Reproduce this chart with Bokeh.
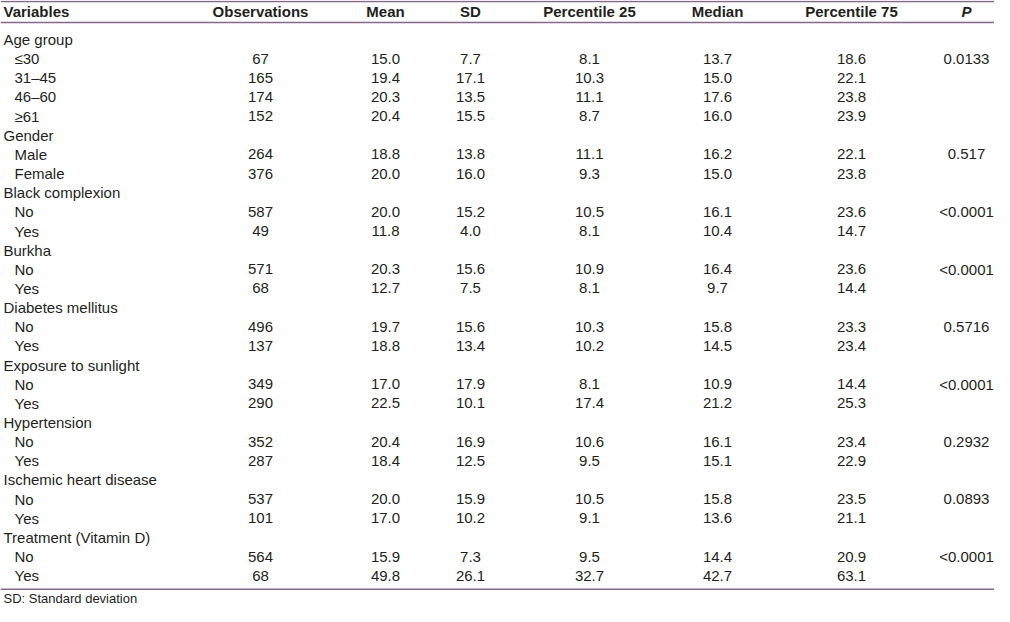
from bokeh.plotting import figure
from bokeh.models import Range1d
from bokeh.core.properties import value
from bokeh.embed import file_html
from bokeh.resources import INLINE

# ---- data ----
headers = ["Variables", "Observations", "Mean", "SD", "Percentile 25", "Median", "Percentile 75", "P"]
groups = ["Age group", "Gender", "Black complexion", "Burkha", "Diabetes mellitus",
          "Exposure to sunlight", "Hypertension", "Ischemic heart disease", "Treatment (Vitamin D)"]
levels = [["≤30", "31–45", "46–60", "≥61"], ["Male", "Female"], ["No", "Yes"], ["No", "Yes"],
          ["No", "Yes"], ["No", "Yes"], ["No", "Yes"], ["No", "Yes"], ["No", "Yes"]]
observations = [67, 165, 174, 152, 264, 376, 587, 49, 571, 68, 496, 137, 349, 290, 352, 287, 537, 101, 564, 68]
mean = ["15.0", "19.4", "20.3", "20.4", "18.8", "20.0", "20.0", "11.8", "20.3", "12.7", "19.7", "18.8",
        "17.0", "22.5", "20.4", "18.4", "20.0", "17.0", "15.9", "49.8"]
sd = ["7.7", "17.1", "13.5", "15.5", "13.8", "16.0", "15.2", "4.0", "15.6", "7.5", "15.6", "13.4",
      "17.9", "10.1", "16.9", "12.5", "15.9", "10.2", "7.3", "26.1"]
p25 = ["8.1", "10.3", "11.1", "8.7", "11.1", "9.3", "10.5", "8.1", "10.9", "8.1", "10.3", "10.2",
       "8.1", "17.4", "10.6", "9.5", "10.5", "9.1", "9.5", "32.7"]
median = ["13.7", "15.0", "17.6", "16.0", "16.2", "15.0", "16.1", "10.4", "16.4", "9.7", "15.8", "14.5",
          "10.9", "21.2", "16.1", "15.1", "15.8", "13.6", "14.4", "42.7"]
p75 = ["18.6", "22.1", "23.8", "23.9", "22.1", "23.8", "23.6", "14.7", "23.6", "14.4", "23.3", "23.4",
       "14.4", "25.3", "23.4", "22.9", "23.5", "21.1", "20.9", "63.1"]
pvalues = ["0.0133", "0.517", "<0.0001", "<0.0001", "0.5716", "<0.0001", "0.2932", "0.0893", "<0.0001"]
footnote = "SD: Standard deviation"

# ---- layout (pixel space of the figure) ----
W, H = 994, 606
col_x = [3, 260, 385, 470, 589, 717, 851, 966]
sub_x = 14
header_y = 11
row_y0 = 39
row_h = 19.15
line_color = "#85698b"
text_color = "#231f20"
FONT = value("Liberation Sans")
FS = "15px"

p = figure(width=W, height=H, x_range=Range1d(0, W), y_range=Range1d(H, 0),
           output_backend="svg", toolbar_location=None, min_border=0)
p.axis.visible = False
p.grid.visible = False
p.outline_line_color = None
p.background_fill_color = "white"
p.border_fill_color = "white"

lab_x, lab_y, lab_t = [], [], []
num_y = []
pv_y, pv_t = [], []
r = 0
for g, lv, pv in zip(groups, levels, pvalues):
    lab_x.append(col_x[0]); lab_y.append(row_y0 + r * row_h); lab_t.append(g)
    r += 1
    for j, l in enumerate(lv):
        y = row_y0 + r * row_h
        lab_x.append(sub_x); lab_y.append(y); lab_t.append(l)
        num_y.append(y)
        if j == 0:
            pv_y.append(y); pv_t.append(pv)
        r += 1
last_y = row_y0 + (r - 1) * row_h
bottom_line_y = last_y + 13.5
foot_y = bottom_line_y + 9

p.text(x=lab_x, y=lab_y, text=lab_t, text_font=FONT, text_font_size=FS,
       text_align="left", text_baseline="middle", text_color=text_color)

for cx, col in zip(col_x[1:7], [[str(o) for o in observations], mean, sd, p25, median, p75]):
    p.text(x=[cx] * len(col), y=num_y, text=col, text_font=FONT, text_font_size=FS,
           text_align="center", text_baseline="middle", text_color=text_color)

p.text(x=[col_x[7]] * len(pv_t), y=pv_y, text=pv_t, text_font=FONT, text_font_size=FS,
       text_align="center", text_baseline="middle", text_color=text_color)

# headers
p.text(x=[col_x[0]], y=[header_y], text=[headers[0]], text_font=FONT, text_font_size=FS,
       text_font_style="bold", text_align="left", text_baseline="middle", text_color=text_color)
p.text(x=col_x[1:7], y=[header_y] * 6, text=headers[1:7], text_font=FONT, text_font_size=FS,
       text_font_style="bold", text_align="center", text_baseline="middle", text_color=text_color)
p.text(x=[col_x[7]], y=[header_y], text=[headers[7]], text_font=FONT, text_font_size=FS,
       text_font_style="bold italic", text_align="center", text_baseline="middle", text_color=text_color)

# rules
ys = [1, 22, bottom_line_y]
p.segment(x0=[0] * 3, y0=ys, x1=[W] * 3, y1=ys, line_color=line_color, line_width=1.5)

# footnote
p.text(x=[3], y=[foot_y], text=[footnote], text_font=FONT, text_font_size="13px",
       text_align="left", text_baseline="middle", text_color=text_color)

open("out.html", "w").write(file_html(p, INLINE))
